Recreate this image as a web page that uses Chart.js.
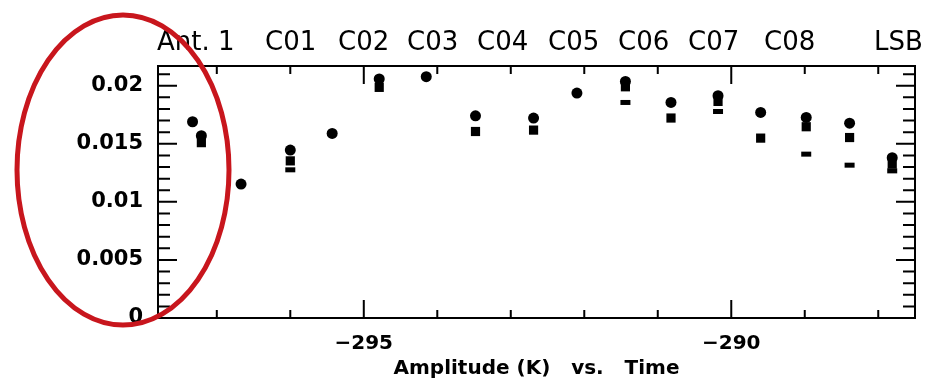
<!DOCTYPE html>
<html>
<head>
<meta charset="utf-8">
<script src="https://cdn.jsdelivr.net/npm/chart.js@4/dist/chart.umd.min.js"></script>
<style>
    html, body { margin: 0; padding: 0; background: #fff; }
</style>
</head>
<body>
<canvas id="grafico" width="929" height="379"></canvas>
<script>
// tempos de cada coluna de pontos
const tempos = [-297.33, -297.21, -296.67, -296.0, -295.43, -294.79, -294.15, -293.48, -292.69,
    -292.10, -291.44, -290.82, -290.18, -289.60, -288.98, -288.39, -287.81];

// amplitudes (K), uma lista por tipo de marcador
const ampCirculo = [0.0169, 0.0157, 0.01153, 0.01446, 0.01589, 0.02058, 0.02078, 0.01741, 0.01722,
    0.01937, 0.02037, 0.01856, 0.01914, 0.0177, 0.01727, 0.01678, 0.01381];
const ampQuadrado = [null, 0.0151, null, 0.01353, null, 0.01986, null, 0.01606, 0.01618,
    null, 0.01991, 0.01722, 0.01865, 0.01549, 0.01647, 0.01554, 0.01325];
const ampTraco = [null, null, null, 0.01276, null, null, null, null, null,
    null, 0.01856, null, 0.01778, null, 0.01411, 0.01316, 0.01267];

const rotulosCanais = ['Ant. 1', 'C01', 'C02', 'C03', 'C04', 'C05', 'C06', 'C07', 'C08', 'LSB'];
const ticksX = [-295, -290];
const ticksY = [0, 0.005, 0.01, 0.015, 0.02];

const fonte = '"DejaVu Sans", Verdana, sans-serif';
Chart.defaults.font.family = fonte;
Chart.defaults.color = '#000';

function pontos(valores) {
    return tempos.map((t, i) => ({ x: t, y: valores[i] })).filter(p => p.y !== null);
}

// moldura com ticks para dentro nos quatro lados
const molduraPlugin = {
    id: 'moldura',
    afterDatasetsDraw(chart) {
        const { ctx, chartArea: a, scales: { x, y } } = chart;
        ctx.save();
        ctx.strokeStyle = '#000';
        ctx.lineWidth = 2;
        ctx.strokeRect(a.left, a.top, a.right - a.left, a.bottom - a.top);
        ctx.beginPath();
        for (let v = Math.ceil(x.min); v <= x.max; v++) {
            const px = x.getPixelForValue(v);
            const len = ticksX.includes(v) ? 18 : 8;
            ctx.moveTo(px, a.bottom); ctx.lineTo(px, a.bottom - len);
            ctx.moveTo(px, a.top); ctx.lineTo(px, a.top + len);
        }
        for (let i = 0; i * 0.001 <= y.max; i++) {
            const py = y.getPixelForValue(i * 0.001);
            const len = i % 5 === 0 ? 19 : 12;
            ctx.moveTo(a.left, py); ctx.lineTo(a.left + len, py);
            ctx.moveTo(a.right, py); ctx.lineTo(a.right - len, py);
        }
        ctx.stroke();
        ctx.restore();
    },
    afterDraw(chart) {
        const ctx = chart.ctx;
        ctx.save();
        // cabeçalho com os canais
        const posicoes = [157, 265, 338, 407, 477, 548, 618, 688, 764, 874];
        ctx.font = '26px ' + fonte;
        ctx.fillStyle = '#000';
        ctx.textBaseline = 'alphabetic';
        rotulosCanais.forEach((r, i) => ctx.fillText(r, posicoes[i], 50));
        // elipse vermelha em volta do eixo y
        ctx.strokeStyle = '#c8161d';
        ctx.lineWidth = 5;
        ctx.beginPath();
        ctx.ellipse(123, 170, 106, 155, 0, 0, Math.PI * 2);
        ctx.stroke();
        ctx.restore();
    }
};

const estiloPonto = { backgroundColor: '#000', borderColor: '#000', showLine: false };

new Chart(document.getElementById('grafico').getContext('2d'), {
    type: 'scatter',
    data: {
        datasets: [
            { ...estiloPonto, data: pontos(ampCirculo), pointStyle: 'circle', pointRadius: 5.5, borderWidth: 0 },
            { ...estiloPonto, data: pontos(ampQuadrado), pointStyle: 'rect', pointRadius: 6.5, borderWidth: 0 },
            { ...estiloPonto, data: pontos(ampTraco), pointStyle: 'line', pointRadius: 5, borderWidth: 5 }
        ]
    },
    options: {
        responsive: false,
        animation: false,
        layout: { padding: { top: 66, right: 14, left: 0, bottom: 0 } },
        plugins: {
            legend: { display: false },
            tooltip: { enabled: false }
        },
        scales: {
            x: {
                type: 'linear',
                min: -297.8,
                max: -287.5,
                grid: { display: false, drawTicks: false },
                border: { display: false },
                afterBuildTicks: s => { s.ticks = ticksX.map(v => ({ value: v })); },
                afterFit: s => { s.height = 61; },
                ticks: {
                    padding: 14,
                    font: { size: 20, weight: 'bold' },
                    callback: v => '\u2212' + Math.abs(v)
                },
                title: {
                    display: true,
                    text: 'Amplitude (K)   vs.   Time',
                    font: { size: 20, weight: 'bold', lineHeight: 1 },
                    padding: 0
                }
            },
            y: {
                min: 0,
                max: 0.0217,
                grid: { display: false, drawTicks: false },
                border: { display: false },
                afterBuildTicks: s => { s.ticks = ticksY.map(v => ({ value: v })); },
                afterFit: s => { s.width = 158; },
                ticks: {
                    padding: 15,
                    font: { size: 21, weight: 'bold' },
                    callback: v => String(v)
                }
            }
        }
    },
    plugins: [molduraPlugin]
});
</script>
</body>
</html>
